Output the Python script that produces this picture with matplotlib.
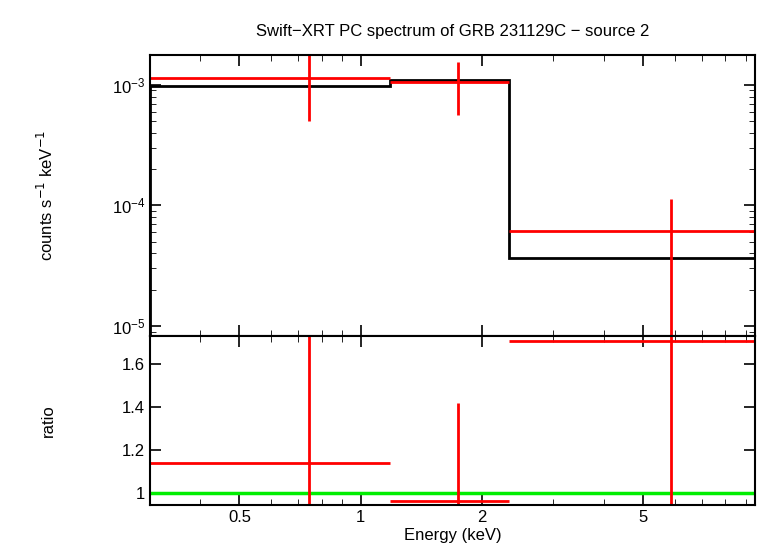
import numpy as np
import matplotlib.pyplot as plt

plt.rcParams['font.family'] = 'Liberation Sans'

e_lo = [0.3, 1.18, 2.33]
e_hi = [1.18, 2.33, 9.5]
e_mid = [0.743, 1.74, 5.87]
flux = [1.14e-3, 1.06e-3, 6.1e-5]
flux_lo = [5.04e-4, 5.65e-4, 1e-6]
flux_hi = [3e-3, 1.55e-3, 1.14e-4]
model = [9.8e-4, 1.1e-3, 3.65e-5]
ratio = [1.14, 0.963, 1.707]
ratio_lo = [0.5, 0.5, 0.5]
ratio_hi = [2.5, 1.42, 2.5]

fig = plt.figure(figsize=(7.58, 5.56), dpi=100)
ax1 = fig.add_axes([150/758, 1-336/556, 605/758, 281/556])
ax2 = fig.add_axes([150/758, 1-505/556, 605/758, 169/556], sharex=ax1)

edges = e_lo + [e_hi[-1]]
ax1.stairs(model, edges, color='black', lw=2)
ax1.hlines(flux, e_lo, e_hi, color='red', lw=2)
ax1.vlines(e_mid, flux_lo, flux_hi, color='red', lw=2)
ax1.set_xscale('log')
ax1.set_yscale('log')
ax1.set_xlim(0.3, 9.5)
ax1.set_ylim(8.26e-6, 1.77e-3)
ax1.set_ylabel('counts s$^{-1}$ keV$^{-1}$', fontsize=12)
ax1.set_title('Swift\u2212XRT PC spectrum of GRB 231129C \u2212 source 2', fontsize=12, pad=14)

ax2.axhline(1, color='#00ee00', lw=2.5)
ax2.hlines(ratio, e_lo, e_hi, color='red', lw=2)
ax2.vlines(e_mid, ratio_lo, ratio_hi, color='red', lw=2)
ax2.set_ylim(0.944, 1.73)
ax2.set_yticks([1, 1.2, 1.4, 1.6])
ax2.set_yticklabels(['1', '1.2', '1.4', '1.6'])
ax2.set_xticks([0.5, 1, 2, 5])
ax2.set_xticklabels(['0.5', '1', '2', '5'])
ax2.set_xlabel('Energy (keV)', fontsize=12, labelpad=2)
ax2.set_ylabel('ratio', fontsize=12)
plt.setp(ax1.get_xticklabels(), visible=False)

for ax in (ax1, ax2):
    ax.tick_params(which='both', direction='in', top=True, right=True, labelsize=12)
    ax.tick_params(which='major', length=8, width=1.2)
    ax.tick_params(which='minor', length=4)
    for s in ax.spines.values():
        s.set_linewidth(1.5)
ax1.yaxis.set_label_coords(-0.155, 0.5)
ax2.yaxis.set_label_coords(-0.155, 0.5)

fig.savefig('out.png', dpi=100)
